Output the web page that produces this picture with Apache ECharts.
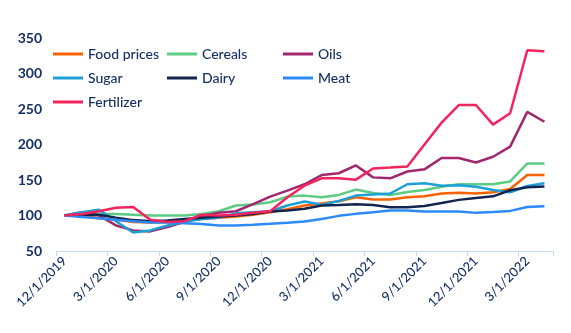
<!DOCTYPE html>
<html>
<head>
<meta charset="utf-8">
<script src="https://cdn.jsdelivr.net/npm/echarts@6/dist/echarts.min.js"></script>
<style>html,body{margin:0;padding:0;background:#fff;}#c{width:571px;height:333px;}</style>
</head>
<body>
<div id="c"></div>
<script>
const categories = ["12/1/2019","1/1/2020","2/1/2020","3/1/2020","4/1/2020","5/1/2020","6/1/2020","7/1/2020","8/1/2020","9/1/2020","10/1/2020","11/1/2020","12/1/2020","1/1/2021","2/1/2021","3/1/2021","4/1/2021","5/1/2021","6/1/2021","7/1/2021","8/1/2021","9/1/2021","10/1/2021","11/1/2021","12/1/2021","1/1/2022","2/1/2022","3/1/2022","4/1/2022"];
const foodPrices = [100,101,96,94,91,90,91,93,95,97,98.6,101,104.7,109,114,117,120,125.7,122.4,122.4,125.7,127,131,132,131,132.7,137.4,157,157];
const cereals = [100,101,102,102,101,100,100,100,102,106,114,115.5,118.7,126.6,128,125.7,129,136.5,131.8,129,133,136,140.6,144,144,144,148,173.3,173.3];
const oils = [100,104.6,100,86,79,77.6,83.6,91,99,104,106,116,126.6,135,144,157,159.5,170.5,153.7,152.3,162,165,181,181,174.7,182.7,197,246,232];
const sugar = [100,104.6,108,92,76,79,86,91,95,97,103,104.6,106,114,119.6,115,120.5,128,129.5,131,144,145.3,142,142.5,140.6,136,132.7,141.6,145.3];
const dairy = [100,101,101,97,93.5,92,93,95,97,98.6,100,102,105.6,107,109.4,114,114.7,116,114.7,111.7,111.7,113.5,117.5,122,124.8,127,135.5,139.7,141];
const meat = [100,98,96,94,92,90,90,89,88,86,86,87,88.3,89.7,91.6,95,99.5,102.3,104.7,107,107,105.6,105.6,105.6,103.7,105,106.5,112,113];
const fertilizer = [100,102,106,111,112,94,91,92,101,100,101,104,106,125.7,142,152.3,152.3,150.5,166.3,167.5,169,200,230.8,255.6,255.6,228,244,332.7,331.3];
const yTicks = [50,100,150,200,250,300,350];

const names = ["Food prices","Cereals","Oils","Sugar","Dairy","Meat","Fertilizer"];
const seriesData = [foodPrices,cereals,oils,sugar,dairy,meat,fertilizer];
const colors = ["#F86200","#5CCB83","#A2276E","#1EA0D6","#13254F","#2C8AF8","#F5245C"];
const txt = "#143066";

const legendPos = {
  "Food prices":[53,46], "Cereals":[167,46], "Oils":[283,46],
  "Sugar":[53,70], "Dairy":[167,70], "Meat":[283,70],
  "Fertilizer":[53,94]
};
const legends = names.map(n => ({
  data:[n], left: legendPos[n][0], top: legendPos[n][1], orient:'horizontal',
  icon:'rect', itemWidth:30, itemHeight:3, itemGap:0, padding:0,
  textStyle:{color:txt, fontSize:14, fontFamily:'Lato', fontWeight:500, lineHeight:16, padding:[0,0,0,0]},
  selectedMode:false
}));

const chart = echarts.init(document.getElementById('c'), null, {renderer:'canvas'});
chart.setOption({
  animation:false,
  color: colors,
  grid:{left:56, right:18, top:38, bottom:82, containLabel:false},
  legend: legends,
  xAxis:{
    type:'category', data:categories, boundaryGap:true,
    axisLine:{lineStyle:{color:'#C7DCF2', width:1}},
    axisTick:{show:true, interval:2, alignWithLabel:false, length:5, lineStyle:{color:'#C7DCF2'}},
    axisLabel:{interval:2, rotate:45, color:txt, fontSize:13, fontFamily:'Lato', fontWeight:500, margin:8}
  },
  yAxis:{
    type:'value', min:yTicks[0], max:yTicks[yTicks.length-1], interval:50,
    axisLine:{show:false}, axisTick:{show:false}, splitLine:{show:false},
    axisLabel:{color:txt, fontSize:14, fontFamily:'Lato', fontWeight:'bold', margin:14}
  },
  series: names.map((n,i)=>({
    name:n, type:'line', data:seriesData[i], symbol:'none', smooth:false,
    lineStyle:{width:2.5, color:colors[i]}, itemStyle:{color:colors[i]}
  }))
});
</script>
</body>
</html>
